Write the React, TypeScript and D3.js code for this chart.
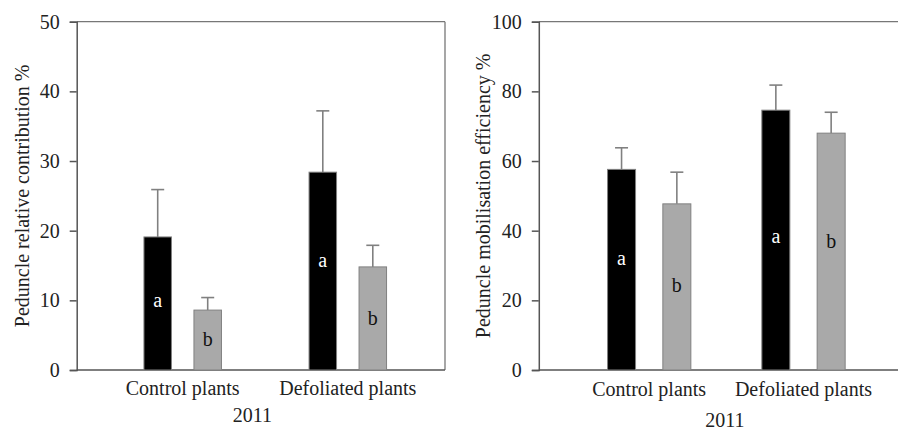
import React, { useEffect, useRef } from 'react';
import * as d3 from 'd3';

// categories and series
const groups = ['Control plants', 'Defoliated plants'];
const series = ['s1', 's2'];
const letters = ['a', 'b'];

// left panel: peduncle relative contribution
const contribMean = [[19.1, 8.6], [28.4, 14.8]];
const contribErr = [[25.9, 10.4], [37.2, 17.9]];
const contribLetterAt = [[9.0, 3.4], [14.8, 6.5]];
const contribTicks = [0, 10, 20, 30, 40, 50];

// right panel: peduncle mobilisation efficiency
const effMean = [[57.6, 47.7], [74.6, 68.0]];
const effErr = [[63.8, 56.8], [81.8, 74.0]];
const effLetterAt = [[30.1, 22.5], [36.4, 34.9]];
const effTicks = [0, 20, 40, 60, 80, 100];

const yearLabel = '2011';
const fillColors = ['#000000', '#a9a9a9'];
const FONT = '"Liberation Serif", "Times New Roman", serif';

interface Panel {
  left: number;
  right: number;
  top: number;
  bottom: number;
  max: number;
  ticks: number[];
  means: number[][];
  errs: number[][];
  letterAt: number[][];
  title: string;
  titleX: number;
  groupRange: [number, number];
  inner: number;
  barW: number;
  catY: number;
  yearX: number;
  yearY: number;
  frameRight: boolean;
}

const App: React.FC = () => {
  const svgRef = useRef<SVGSVGElement | null>(null);

  useEffect(() => {
    const svg = d3.select(svgRef.current);
    svg.selectAll('*').remove();

    const panels: Panel[] = [
      {
        left: 76.7, right: 445, top: 21.7, bottom: 370, max: 50, ticks: contribTicks,
        means: contribMean, errs: contribErr, letterAt: contribLetterAt,
        title: 'Peduncle relative contribution %', titleX: 21.5,
        groupRange: [182.7, 347.8], inner: 50, barW: 27.5, catY: 394.5,
        yearX: 252.3, yearY: 421.5, frameRight: true,
      },
      {
        left: 538.8, right: 905, top: 21.7, bottom: 370, max: 100, ticks: effTicks,
        means: effMean, errs: effErr, letterAt: effLetterAt,
        title: 'Peduncle mobilisation efficiency %', titleX: 483,
        groupRange: [649.2, 803.5], inner: 55.3, barW: 28, catY: 396,
        yearX: 725, yearY: 427, frameRight: false,
      },
    ];

    panels.forEach((p) => {
      const g = svg.append('g');
      const y = d3.scaleLinear().domain([0, p.max]).range([p.bottom, p.top]);
      const xg = d3.scalePoint<string>().domain(groups).range(p.groupRange);
      const xs = d3.scalePoint<string>().domain(series).range([-p.inner / 2, p.inner / 2]);

      // frame
      g.append('line')
        .attr('x1', p.left).attr('x2', p.right)
        .attr('y1', p.top).attr('y2', p.top)
        .attr('stroke', '#777').attr('stroke-width', 1.3);
      if (p.frameRight) {
        g.append('line')
          .attr('x1', p.right).attr('x2', p.right)
          .attr('y1', p.top).attr('y2', p.bottom)
          .attr('stroke', '#777').attr('stroke-width', 1.3);
      }
      g.append('line')
        .attr('x1', p.left).attr('x2', p.right)
        .attr('y1', p.bottom).attr('y2', p.bottom)
        .attr('stroke', '#555').attr('stroke-width', 1.5);

      // y axis
      const yAxis = g.append('g')
        .attr('transform', `translate(${p.left},0)`)
        .call(d3.axisLeft(y).tickValues(p.ticks).tickSize(7).tickPadding(10).tickFormat(d3.format('d')));
      yAxis.select('.domain').attr('stroke', '#555').attr('stroke-width', 1.5);
      yAxis.selectAll('.tick line').attr('stroke', '#555').attr('stroke-width', 1.5);
      yAxis.selectAll('.tick text')
        .attr('fill', '#222')
        .style('font-family', FONT)
        .style('font-size', '20px');

      // bars, error bars, letters
      groups.forEach((grp, gi) => {
        series.forEach((s, si) => {
          const cx = (xg(grp) as number) + (xs(s) as number);
          const v = p.means[gi][si];
          const e = p.errs[gi][si];
          g.append('line')
            .attr('x1', cx).attr('x2', cx)
            .attr('y1', y(v)).attr('y2', y(e))
            .attr('stroke', '#808080').attr('stroke-width', 1.6);
          g.append('line')
            .attr('x1', cx - 6.5).attr('x2', cx + 6.5)
            .attr('y1', y(e)).attr('y2', y(e))
            .attr('stroke', '#808080').attr('stroke-width', 1.6);
          g.append('rect')
            .attr('x', cx - p.barW / 2)
            .attr('y', y(v))
            .attr('width', p.barW)
            .attr('height', y(0) - y(v))
            .attr('fill', fillColors[si])
            .attr('stroke', '#808080')
            .attr('stroke-width', 1);
          g.append('text')
            .attr('x', cx)
            .attr('y', y(p.letterAt[gi][si]))
            .attr('text-anchor', 'middle')
            .attr('fill', si === 0 ? '#ffffff' : '#111')
            .style('font-family', FONT)
            .style('font-size', '20px')
            .text(letters[si]);
        });
        g.append('text')
          .attr('x', xg(grp) as number)
          .attr('y', p.catY)
          .attr('text-anchor', 'middle')
          .attr('fill', '#222')
          .style('font-family', FONT)
          .style('font-size', '20px')
          .text(grp);
      });

      // titles
      g.append('text')
        .attr('transform', `translate(${p.titleX},${(p.top + p.bottom) / 2}) rotate(-90)`)
        .attr('text-anchor', 'middle')
        .attr('dy', '0.35em')
        .attr('fill', '#222')
        .style('font-family', FONT)
        .style('font-size', '20px')
        .text(p.title);
      g.append('text')
        .attr('x', p.yearX)
        .attr('y', p.yearY)
        .attr('text-anchor', 'middle')
        .attr('fill', '#222')
        .style('font-family', FONT)
        .style('font-size', '20px')
        .text(yearLabel);
    });
  }, []);

  return (
    <svg
      ref={svgRef}
      width={898}
      height={430}
      style={{ position: 'absolute', left: 0, top: 0, background: '#fff' }}
    />
  );
};

export default App;
